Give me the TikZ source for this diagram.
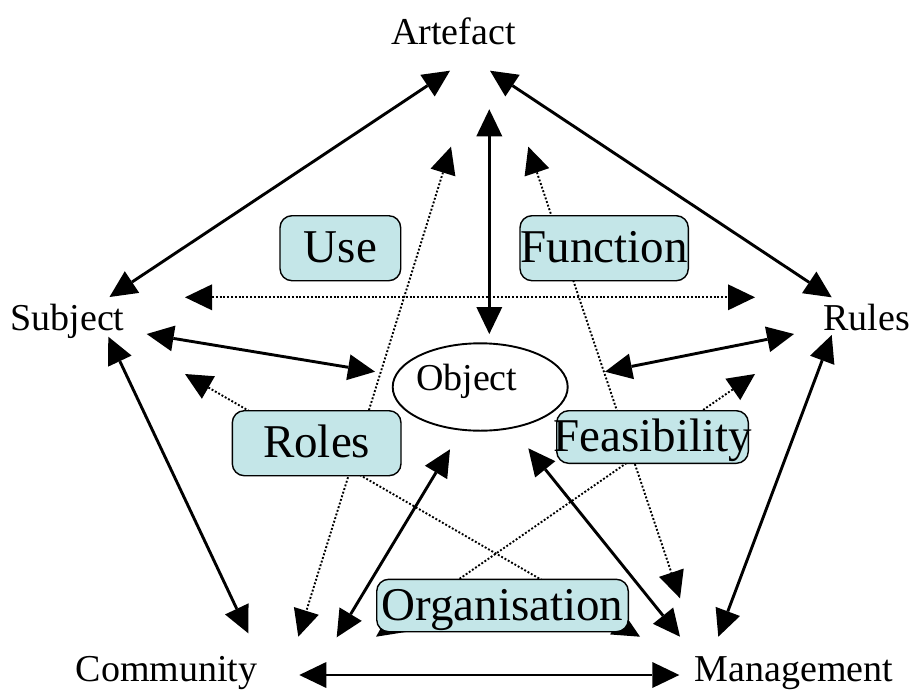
\documentclass[tikz,border=0pt]{standalone}
\usepackage{fontspec}
\setmainfont{Liberation Serif}
\usetikzlibrary{arrows.meta,shapes.geometric}
\definecolor{boxfill}{RGB}{196,230,232}
\begin{document}
\begin{tikzpicture}[x=1pt,y=-1pt,
  lbl/.style={font=\fontsize{38}{38}\selectfont, inner sep=0pt, anchor=base},
  tagbox/.style={draw, line width=1.4pt, rounded corners=12pt, fill=boxfill, inner sep=0pt,
    text height=32pt, text depth=3pt, font=\fontsize{47}{47}\selectfont},
  solidarrow/.style={line width=2.9pt, {Triangle[length=27pt,width=26pt,line width=0pt]}-{Triangle[length=27pt,width=26pt,line width=0pt]}},
  dotarrow/.style={line width=1.9pt, dash pattern=on 1.9pt off 1.9pt, {Triangle[length=27pt,width=26pt,line width=0pt]}-{Triangle[length=27pt,width=26pt,line width=0pt]}}
]
\useasboundingbox (0,0) rectangle (913,691);

% labels
\node[lbl] (artefact) at (453.5,44) {Artefact};
\node[lbl] (subject) at (67.5,330.7) {Subject};
\node[lbl] (rules) at (866.5,330.7) {Rules};
\node[lbl] (community) at (166.7,681.7) {Community};
\node[lbl] (management) at (794,681.7) {Management};

% connector end points
\coordinate (aS) at (450,70.7);   \coordinate (sA) at (109.5,297);
\coordinate (aR) at (490,70.7);   \coordinate (rA) at (831.7,297.3);
\coordinate (aO) at (489.3,109.3); \coordinate (oA) at (489.3,334);
\coordinate (sO) at (146.7,334);  \coordinate (oS) at (375,371.7);
\coordinate (rO) at (794,334);    \coordinate (oR) at (605,371.7);
\coordinate (sC) at (108.3,336.7); \coordinate (cS) at (248.3,633.3);
\coordinate (rM) at (831.7,335);  \coordinate (mR) at (718.3,636.7);
\coordinate (cM) at (299.3,675);  \coordinate (mC) at (679.3,675);
\coordinate (cO) at (336.7,637.3); \coordinate (oC) at (450,449.3);
\coordinate (mO) at (680,636.7);  \coordinate (oM) at (528.3,448.3);
\coordinate (sR) at (185,297.3);  \coordinate (rS) at (755,297.3);
\coordinate (sM) at (185,374);    \coordinate (mS) at (640,636.7);
\coordinate (rC) at (755,374);    \coordinate (cR) at (376,636.7);
\coordinate (aC) at (451,146.7);  \coordinate (cA) at (298.3,636.7);
\coordinate (aM) at (528.3,146.7); \coordinate (mA) at (680,598.3);

% dotted pentagram
\draw[dotarrow] (sR) -- (rS);
\draw[dotarrow] (sM) -- (mS);
\draw[dotarrow] (rC) -- (cR);
\draw[dotarrow] (aC) -- (cA);
\draw[dotarrow] (aM) -- (mA);

% boxes
\node[tagbox, minimum width=120.7pt, minimum height=65pt] (use) at (340.35,248.2) {\makebox[0pt]{Use}};
\node[tagbox, minimum width=168.3pt, minimum height=65pt] (function) at (604.15,248.2) {\makebox[0pt]{Function}};
\node[tagbox, minimum width=168.7pt, minimum height=65pt] (roles) at (316.65,443.2) {\makebox[0pt]{Roles}};
\node[tagbox, minimum width=191.6pt, minimum height=52.6pt] (feasibility) at (652.5,437) {\makebox[0pt]{Feasibility}};
\node[tagbox, minimum width=251.6pt, minimum height=52.4pt] (organisation) at (502.5,605.5) {\makebox[0pt]{Organisation}};

% object
\node[draw, ellipse, line width=1.9pt, inner sep=0pt, minimum width=175pt, minimum height=87.4pt,
  font=\fontsize{38}{38}\selectfont, text height=12pt, text depth=4.6pt] (object) at (480.2,387)
  {\makebox[0pt]{Object\kern27pt}};

% solid arrows
\draw[solidarrow] (aS) -- (sA);
\draw[solidarrow] (aR) -- (rA);
\draw[solidarrow] (aO) -- (oA);
\draw[solidarrow] (sO) -- (oS);
\draw[solidarrow] (rO) -- (oR);
\draw[solidarrow] (sC) -- (cS);
\draw[solidarrow] (rM) -- (mR);
\draw[solidarrow] (cM) -- (mC);
\draw[solidarrow] (cO) -- (oC);
\draw[solidarrow] (mO) -- (oM);
\end{tikzpicture}
\end{document}
